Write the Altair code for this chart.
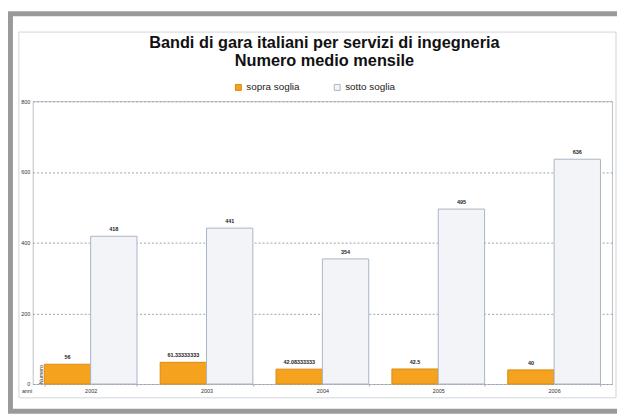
import altair as alt
import pandas as pd

years = ["2002", "2003", "2004", "2005", "2006"]
sopra = [56, 61.33333333, 42.08333333, 42.5, 40]
sotto = [418, 441, 354, 495, 636]
series = ["sopra soglia", "sotto soglia"]
y_ticks = [0, 200, 400, 600, 800]
fills = ["#f5a31e", "#f3f4f7"]
strokes = ["#d98b12", "#a9b5c4"]

rows = []
for i, yr in enumerate(years):
    rows.append({"anno": yr, "serie": series[0], "valore": sopra[i]})
    rows.append({"anno": yr, "serie": series[1], "valore": sotto[i]})
df = pd.DataFrame(rows)

W, H = 586, 286
FONT = "Liberation Sans"

x = alt.X(
    "anno:N",
    scale=alt.Scale(paddingInner=0.2, paddingOuter=0.1),
    axis=alt.Axis(
        title="anni", labelAngle=0, labelFontSize=5.5, labelPadding=3,
        labelColor="#333", tickBand="extent", tickSize=2, tickColor="#aab",
        domain=False, titleFontSize=5.5, titleFontWeight="normal",
        titleColor="#333", titleAnchor="start", titleAlign="right",
        titleX=-1, titleY=7, titleBaseline="middle",
    ),
)
y = alt.Y(
    "valore:Q",
    scale=alt.Scale(domain=[0, 800], nice=False),
    axis=alt.Axis(
        values=y_ticks, title="Numero", labelFontSize=5.5, labelColor="#333",
        labelPadding=3, tickSize=0, grid=True, gridDash=[2, 2],
        gridColor="#9aa3ad", domain=False,
        titleFontSize=5.5, titleFontWeight="normal", titleColor="#333",
        titleAngle=270, titleX=8, titleY=276, titleAlign="center",
        titleBaseline="middle",
    ),
)
xoff = alt.XOffset("serie:N", scale=alt.Scale(paddingInner=0, paddingOuter=0))

legend = alt.Legend(
    title=None, orient="none", legendX=203, legendY=-19,
    direction="horizontal", symbolType="square", symbolSize=36,
    symbolStrokeWidth=1, labelFontSize=10, labelFont=FONT, labelColor="#222",
    labelOffset=3, columnPadding=33, padding=0,
)

bars = alt.Chart(df).mark_bar(strokeWidth=1).encode(
    x=x, xOffset=xoff, y=y,
    color=alt.Color("serie:N", scale=alt.Scale(domain=series, range=fills), legend=legend),
    stroke=alt.Stroke("serie:N", scale=alt.Scale(domain=series, range=strokes), legend=legend),
)

labels = alt.Chart(df).mark_text(
    dy=-4, fontSize=5.5, fontWeight="bold", baseline="bottom", color="#222", font=FONT
).encode(x=x, xOffset=xoff, y=y, text=alt.Text("valore:N"))

one = pd.DataFrame({"k": [0]})
outer = alt.Chart(one).mark_rect(fill=None, stroke="#9a9a9a", strokeWidth=5).encode(
    x=alt.value(-22.5), x2=alt.value(700), y=alt.value(-88.5), y2=alt.value(313.5)
)
inner = alt.Chart(one).mark_rect(fill=None, stroke="#cfd5dc", strokeWidth=1).encode(
    x=alt.value(-14), x2=alt.value(590), y=alt.value(-70), y2=alt.value(300)
)

chart = alt.layer(outer, inner, bars, labels).properties(
    width=W, height=H,
    autosize=alt.AutoSizeParams(type="none"),
    padding={"left": 25, "right": 5, "top": 92, "bottom": 29},
    title=alt.TitleParams(
        ["Bandi di gara italiani per servizi di ingegneria", "Numero medio mensile"],
        fontSize=16.5, font=FONT, fontWeight="bold", anchor="middle", frame="group",
        dx=2, offset=-59, lineHeight=18, color="#111",
    ),
).configure(background="white", font=FONT).configure_view(stroke="#b9c0c8", strokeWidth=1)

chart.save("out.html", embed_options={"renderer": "svg", "actions": False})
